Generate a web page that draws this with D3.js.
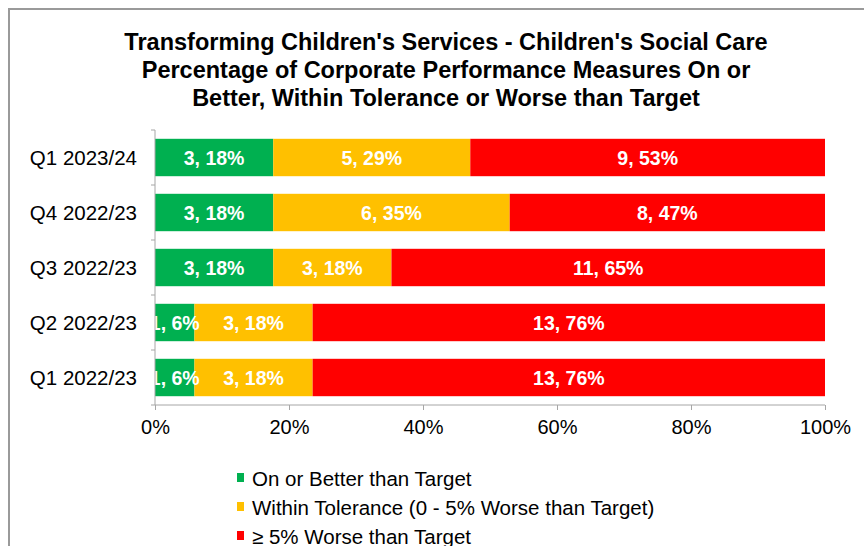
<!DOCTYPE html>
<html>
<head>
<meta charset="utf-8">
<script src="https://cdn.jsdelivr.net/npm/d3@7"></script>
<style>
  body { margin: 0; background: #fff; }
  svg { display: block; font-family: "Liberation Sans", Arial, sans-serif; }
</style>
</head>
<body>
<div id="chart"></div>
<script>
// quarters, top to bottom
const quarters = ["Q1 2023/24", "Q4 2022/23", "Q3 2022/23", "Q2 2022/23", "Q1 2022/23"];
const seriesNames = ["On or Better than Target", "Within Tolerance (0 - 5% Worse than Target)", "\u2265 5% Worse than Target"];
const seriesColors = ["#00B050", "#FFC000", "#FF0000"];

// number of measures per status
const onTarget = [3, 3, 3, 1, 1];
const withinTol = [5, 6, 3, 3, 3];
const worse = [9, 8, 11, 13, 13];

// percentages as shown in the labels
const onTargetPct = [18, 18, 18, 6, 6];
const withinTolPct = [29, 35, 18, 18, 18];
const worsePct = [53, 47, 65, 76, 76];

const xTicks = [0, 0.2, 0.4, 0.6, 0.8, 1];
const titleLines = [
  "Transforming Children's Services - Children's Social Care",
  "Percentage of Corporate Performance Measures On or",
  "Better, Within Tolerance or Worse than Target"
];

const width = 864, height = 546;
const margin = {top: 130, left: 155, right: 39, bottom: 141};
const plotW = width - margin.left - margin.right;
const plotH = height - margin.top - margin.bottom;

const svg = d3.select("#chart").append("svg")
    .attr("width", width)
    .attr("height", height);

// outer frame
svg.append("path")
    .attr("d", `M9,${height} V9 H${width}`)
    .attr("fill", "none")
    .attr("stroke", "#9a9a9a")
    .attr("stroke-width", 2);

// title
svg.append("g").selectAll("text")
    .data(titleLines)
    .enter()
    .append("text")
    .attr("x", 446)
    .attr("y", (d, i) => 50 + i * 28)
    .attr("text-anchor", "middle")
    .attr("font-size", "23.5px")
    .attr("font-weight", "bold")
    .attr("fill", "#000")
    .text(d => d);

// rows: counts + pct per series
const rows = quarters.map((q, i) => {
    const counts = [onTarget[i], withinTol[i], worse[i]];
    const pcts = [onTargetPct[i], withinTolPct[i], worsePct[i]];
    const total = d3.sum(counts);
    let acc = 0;
    return {
        quarter: q,
        segs: counts.map((c, k) => {
            const s = {k: k, count: c, pct: pcts[k], x0: acc / total, x1: (acc + c) / total};
            acc += c;
            return s;
        })
    };
});

const x = d3.scaleLinear().domain([0, 1]).range([0, plotW]);
const y = d3.scaleBand().domain(quarters).range([0, plotH]).paddingInner(0.32).paddingOuter(0.16);

const g = svg.append("g")
    .attr("transform", `translate(${margin.left},${margin.top})`);

svg.append("defs").append("clipPath")
    .attr("id", "plotClip")
    .append("rect")
    .attr("x", 0).attr("y", 0)
    .attr("width", plotW).attr("height", plotH);

const rowG = g.selectAll(".row")
    .data(rows)
    .enter()
    .append("g")
    .attr("class", "row")
    .attr("transform", d => `translate(0,${y(d.quarter)})`);

rowG.selectAll("rect")
    .data(d => d.segs)
    .enter()
    .append("rect")
    .attr("x", d => x(d.x0))
    .attr("width", d => x(d.x1) - x(d.x0))
    .attr("y", 0)
    .attr("height", y.bandwidth())
    .attr("fill", d => seriesColors[d.k]);

// data labels, clipped to plot area
const labelLayer = g.append("g").attr("clip-path", "url(#plotClip)");
rows.forEach(r => {
    r.segs.forEach(s => {
        labelLayer.append("text")
            .attr("x", x((s.x0 + s.x1) / 2))
            .attr("y", y(r.quarter) + y.bandwidth() / 2 + 7)
            .attr("text-anchor", "middle")
            .attr("font-size", "19.5px")
            .attr("font-weight", "bold")
            .attr("fill", "#fff")
            .text(`${s.count}, ${s.pct}%`);
    });
});

// axes
const axisColor = "#a6a6a6";

g.append("line")
    .attr("x1", 0).attr("x2", 0)
    .attr("y1", 0).attr("y2", plotH)
    .attr("stroke", axisColor);

// category boundary ticks (between bands)
g.append("g").selectAll("line")
    .data(d3.range(quarters.length + 1))
    .enter()
    .append("line")
    .attr("x1", -4).attr("x2", 0)
    .attr("y1", i => i * plotH / quarters.length)
    .attr("y2", i => i * plotH / quarters.length)
    .attr("stroke", axisColor);

// category labels
g.append("g").selectAll("text")
    .data(quarters)
    .enter()
    .append("text")
    .attr("x", -18)
    .attr("y", d => y(d) + y.bandwidth() / 2 + 7)
    .attr("text-anchor", "end")
    .attr("font-size", "20.5px")
    .attr("fill", "#000")
    .text(d => d);

const xAxis = g.append("g")
    .attr("transform", `translate(0,${plotH})`)
    .call(d3.axisBottom(x).tickValues(xTicks).tickSize(5).tickPadding(10).tickFormat(d3.format(".0%")));
xAxis.select(".domain").attr("stroke", axisColor).attr("d", `M0,0H${plotW}`);
xAxis.selectAll(".tick line").attr("stroke", axisColor);
xAxis.selectAll(".tick text")
    .attr("font-size", "20px")
    .attr("fill", "#000")
    .attr("font-family", "Liberation Sans, Arial, sans-serif");

// legend
const legend = svg.append("g")
    .attr("transform", "translate(237,0)");
const legendBase = [486, 515, 544];

seriesNames.forEach((name, i) => {
    legend.append("rect")
        .attr("x", 0)
        .attr("y", legendBase[i] - 13)
        .attr("width", 7)
        .attr("height", 9)
        .attr("fill", seriesColors[i]);
    legend.append("text")
        .attr("x", 15)
        .attr("y", legendBase[i])
        .attr("font-size", "20.5px")
        .attr("fill", "#000")
        .text(name);
});
</script>
</body>
</html>
